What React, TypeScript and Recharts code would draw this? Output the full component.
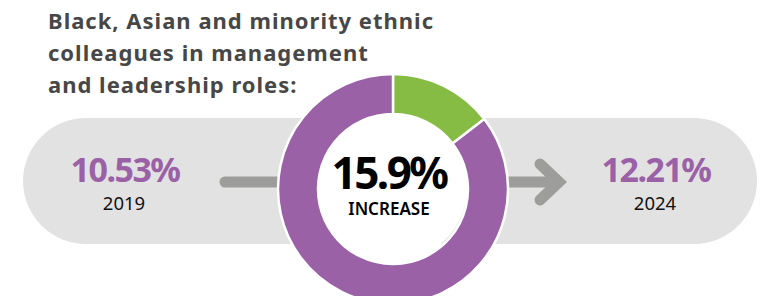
import React from "react";
import { PieChart, Pie, Cell } from "recharts";

// share of the ring
const sliceNames = ["increase", "rest"];
const sliceValues = [14.6, 85.4];
const sliceColors = ["#86bc44", "#9a61a6"];

const titleLines = [
  "Black, Asian and minority ethnic",
  "colleagues in management",
  "and leadership roles:",
];
const startLabel = "10.53%";
const startYear = "2019";
const endLabel = "12.21%";
const endYear = "2024";
const centerValue = "15.9%";
const centerLabel = "INCREASE";

const W = 762;
const H = 296;
const CX = 388;
const CY = 184;

export default function App() {
  const data = sliceNames.map((name, i) => ({ name, value: sliceValues[i] }));

  return (
    <div style={{ position: "absolute", left: 0, top: 0, width: W, height: H, background: "#fff" }}>
      {/* pill and arrows behind the ring */}
      <svg width={W} height={H} style={{ position: "absolute", left: 0, top: 0 }}>
        <rect x={23} y={118} width={734} height={126} rx={63} ry={63} fill="#e2e2e2" />
        <line x1={225} y1={182} x2={300} y2={182} stroke="#9d9d9c" strokeWidth={11} strokeLinecap="round" />
        <line x1={480} y1={182} x2={560} y2={182} stroke="#9d9d9c" strokeWidth={11} />
        <polyline
          points="540,164 559,182 540,200"
          fill="none"
          stroke="#9d9d9c"
          strokeWidth={11}
          strokeLinecap="round"
          strokeLinejoin="miter"
        />
        {/* white hole of the ring */}
        <circle cx={CX} cy={CY} r={80} fill="#ffffff" />
      </svg>

      <div style={{ position: "absolute", left: 0, top: 0 }}>
        <PieChart width={W} height={H}>
          <Pie
            data={data}
            dataKey="value"
            nameKey="name"
            cx={CX}
            cy={CY}
            innerRadius={75}
            outerRadius={115}
            startAngle={90}
            endAngle={-270}
            stroke="#ffffff"
            strokeWidth={2.5}
            isAnimationActive={false}
          >
            {data.map((d, i) => (
              <Cell key={d.name} fill={sliceColors[i]} />
            ))}
          </Pie>
        </PieChart>
      </div>

      {/* texts */}
      <svg width={W} height={H} style={{ position: "absolute", left: 0, top: 0, pointerEvents: "none" }}>
        {titleLines.map((t, i) => (
          <text
            key={i}
            x={48}
            y={29 + i * 32}
            fill="#474747"
            fontFamily="'Noto Sans', sans-serif"
            fontWeight={700}
            fontSize={22}
            letterSpacing={1}
          >
            {t}
          </text>
        ))}

        <text x={125} y={182} textAnchor="middle" fill="#9a61a6" fontFamily="'Noto Sans', sans-serif" fontWeight={700} fontSize={34} letterSpacing={-1.5}>
          {startLabel}
        </text>
        <text x={124} y={210} textAnchor="middle" fill="#111" fontFamily="'Noto Sans', sans-serif" fontSize={18.5}>
          {startYear}
        </text>

        <text x={656} y={182} textAnchor="middle" fill="#9a61a6" fontFamily="'Noto Sans', sans-serif" fontWeight={700} fontSize={34} letterSpacing={-1.5}>
          {endLabel}
        </text>
        <text x={655} y={210} textAnchor="middle" fill="#111" fontFamily="'Noto Sans', sans-serif" fontSize={18.5}>
          {endYear}
        </text>

        <text x={389} y={189} textAnchor="middle" fill="#000" fontFamily="'Noto Sans', sans-serif" fontWeight={700} fontSize={44} letterSpacing={-2.5}>
          {centerValue}
        </text>
        <text x={389} y={215} textAnchor="middle" fill="#000" fontFamily="'Noto Sans', sans-serif" fontWeight={600} fontSize={17}>
          {centerLabel}
        </text>
      </svg>
    </div>
  );
}
